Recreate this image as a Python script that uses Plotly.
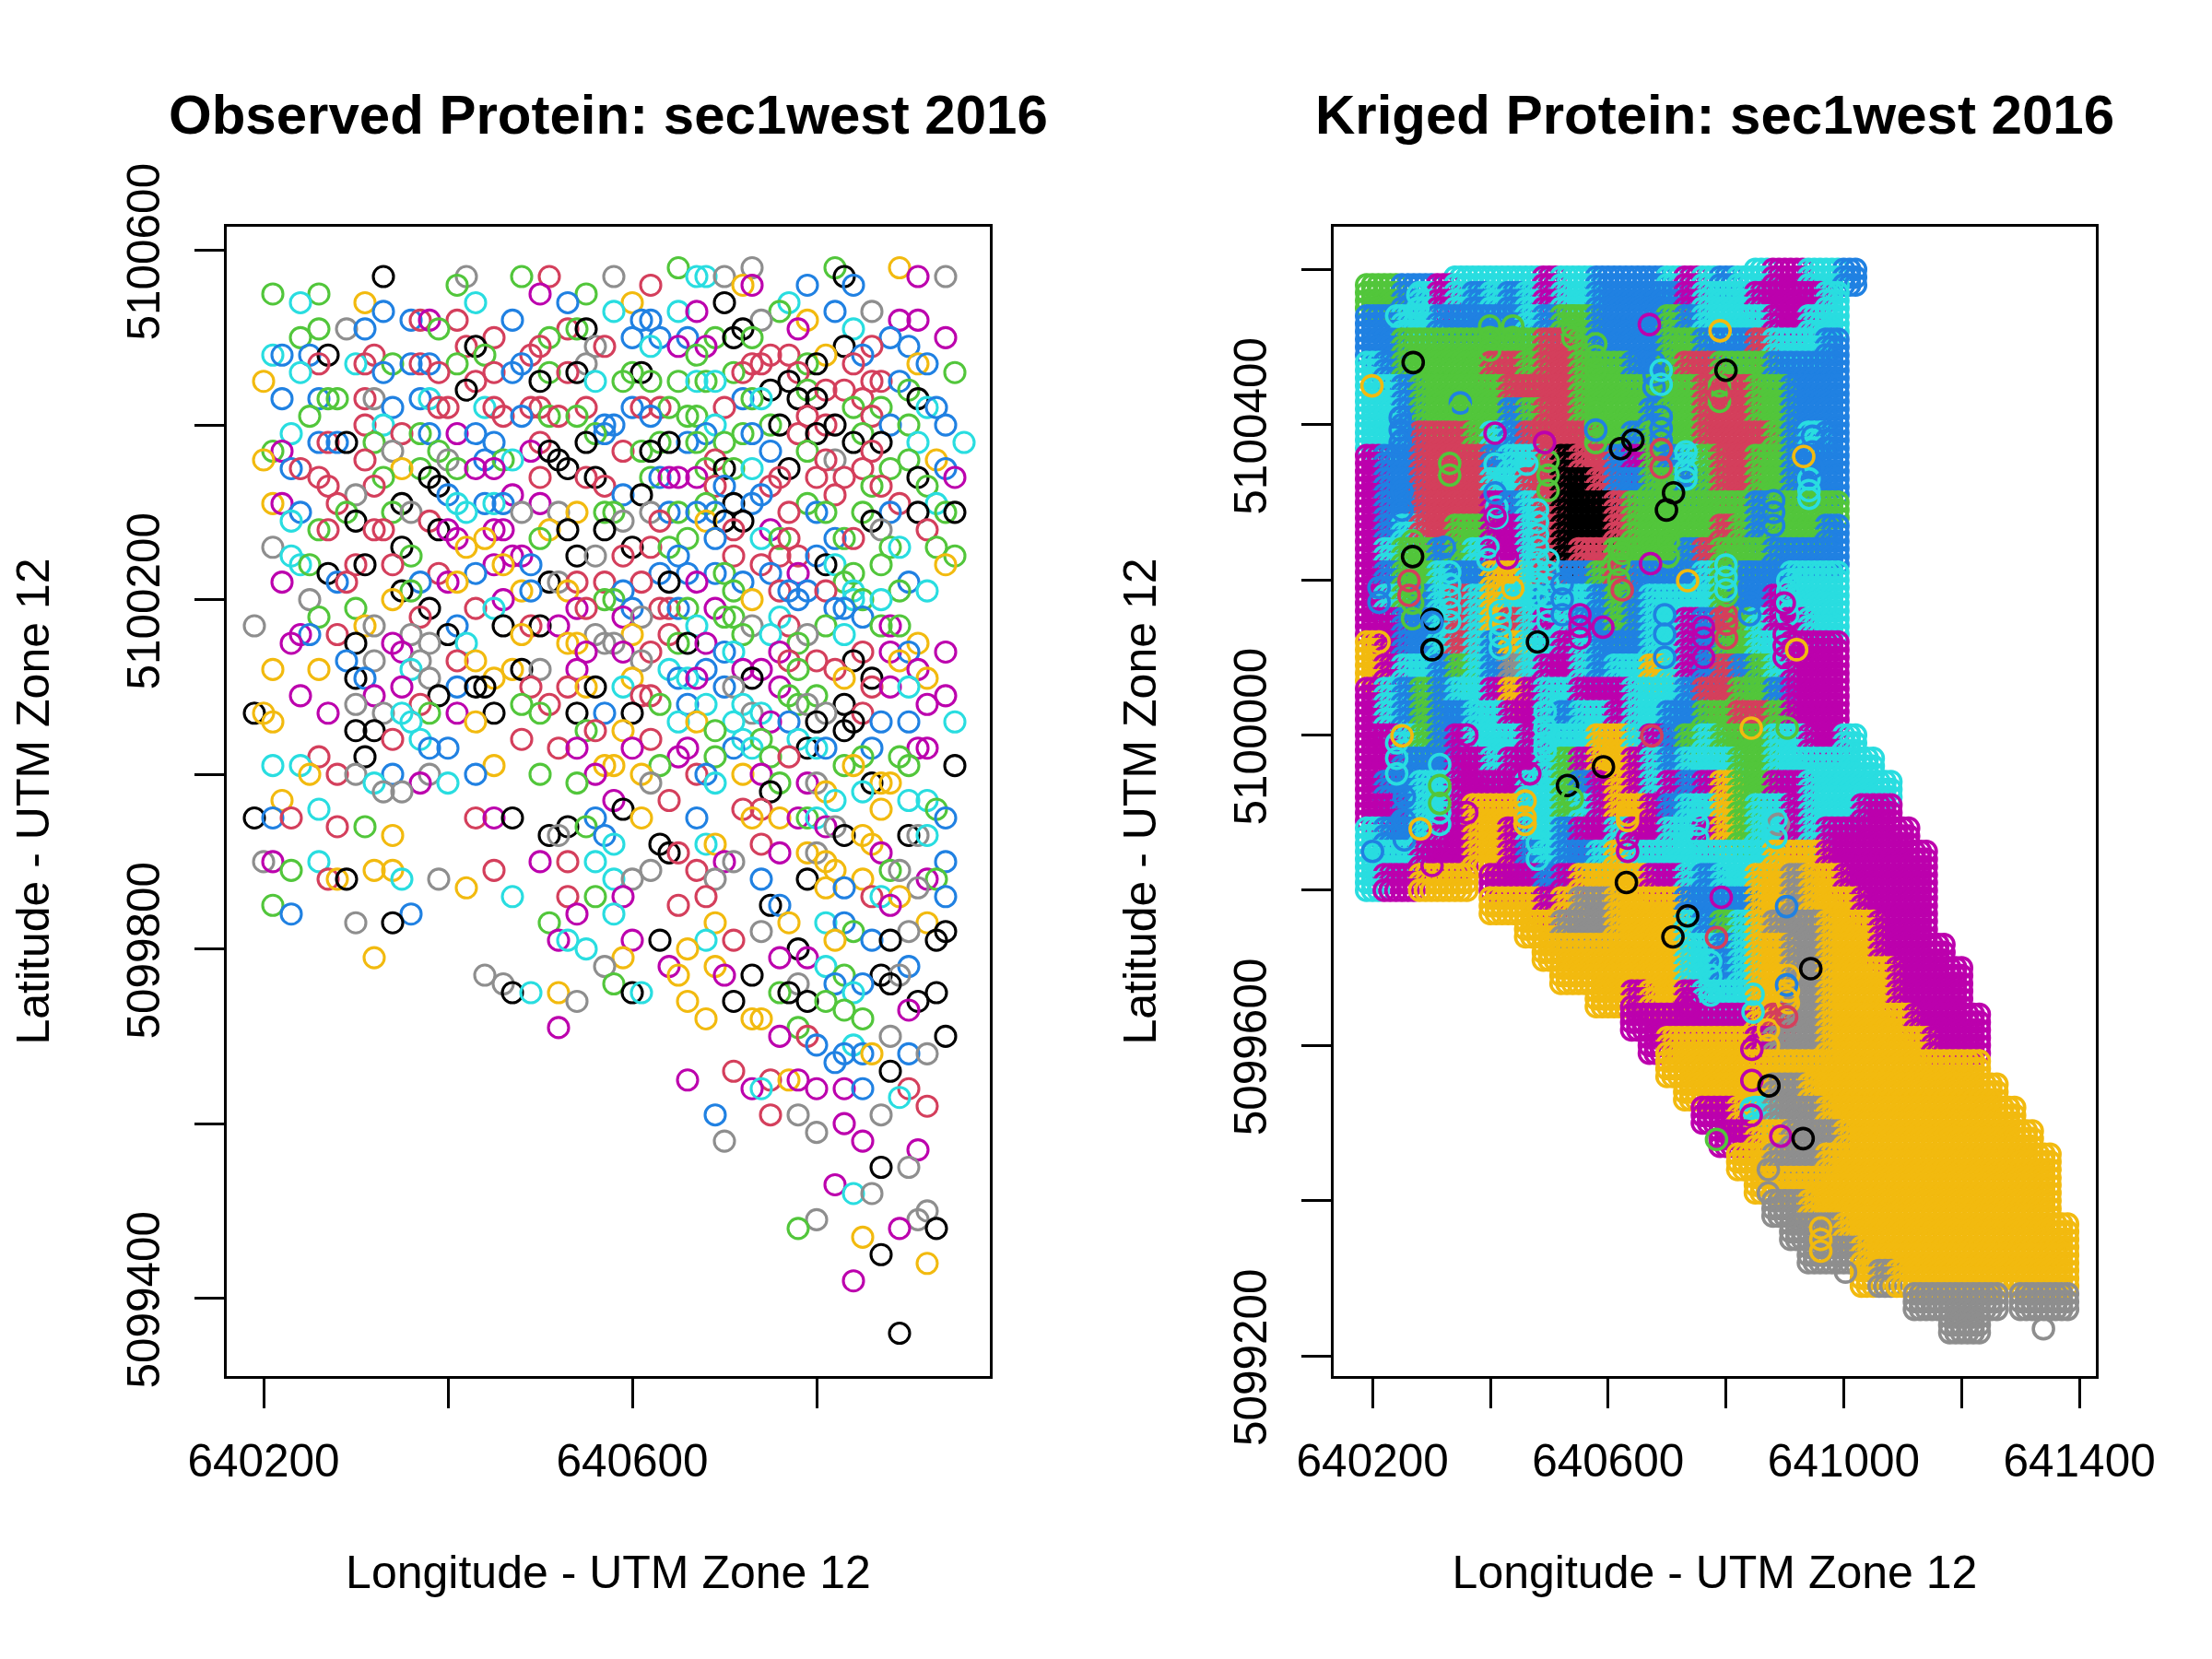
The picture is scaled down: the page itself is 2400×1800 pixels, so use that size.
import plotly.graph_objects as go

# Class colours
palette = {"K": "#000000", "R": "#D43F5C", "G": "#52C63B", "B": "#2081E2",
           "C": "#29DDE0", "M": "#BC00AD", "Y": "#F2BA0F", "A": "#8E8E8E"}

TITLE_LEFT = "Observed Protein: sec1west 2016"
TITLE_RIGHT = "Kriged Protein: sec1west 2016"
XLABEL = "Longitude - UTM Zone 12"
YLABEL = "Latitude - UTM Zone 12"

left_x_ticks = [640200, 640400, 640600, 640800]
left_x_text = ["640200", "", "640600", ""]
left_y_ticks = [5099400, 5099600, 5099800, 5100000, 5100200, 5100400, 5100600]
left_y_text = ["5099400", "", "5099800", "", "5100200", "", "5100600"]
right_x_ticks = [640200, 640400, 640600, 640800, 641000, 641200, 641400]
right_x_text = ["640200", "", "640600", "", "641000", "", "641400"]
right_y_ticks = [5099200, 5099400, 5099600, 5099800, 5100000, 5100200, 5100400, 5100600]
right_y_text = ["5099200", "", "5099600", "", "5100000", "", "5100400", ""]

# Observed samples: (northing - 5099000, "class + easting - 640000 ...")
obs_rows = [
 (1580,"G650 A730 G820 Y890"),
 (1570,"K330 A420 G480 R510 A580 C670 C680 A700 K830 M910 A940"),
 (1560,"G410 R620 Y720 M730 B790 B840"),
 (1550,"G210 G260 M500 G550"),
 (1540,"C240 Y310 C430 B530 Y600 K700 C770"),
 (1530,"B330 C580 C650 M670 G760 B820 A860"),
 (1520,"B360 R370 M380 R410 B470 B610 B620 A740 Y790 M890 M910"),
 (1510,"A290 B310 G260 G390 R530 G540 K550 K720 M780 C840"),
 (1500,"G240 R450 G510 B600 B630 B660 G690 K710 G730 B880 M940"),
 (1490,"R420 K430 R500 A560 R570 C620 M650 M680 K830 R860 B900"),
 (1480,"C210 B220 B250 K270 R320 G440 R490 G670 R750 R770 Y810 B850"),
 (1470,"R260 C300 R310 G340 B360 R370 B380 G410 B480 A550 R730 R740 G790 K800 R840 Y910 B920"),
 (1460,"C240 B330 R390 R450 B470 G510 R530 K540 G600 K610 G710 R720 R780 G950"),
 (1450,"Y200 R430 K500 C560 G590 G620 G650 C670 G680 C690 K770 R860 R870 B890"),
 (1440,"K420 K750 G790 R810 R830 G900"),
 (1430,"B220 B260 G270 G280 R310 A320 B370 C380 B720 G730 C740 K780 K800 R850 K910"),
 (1420,"B340 R390 R400 C440 R450 R490 R500 R550 B600 R610 R630 G640 R700 G840 G870 C920 B930"),
 (1410,"G250 R460 B480 G510 R520 G540 B620 G660 G670 R790 R860"),
 (1400,"R310 C330 B570 B580 C690 G750 K760 R810 K820 B880 G900 B940"),
 (1390,"C230 R350 G370 B380 M410 B430 G560 B570 B680 G720 B730 R780 K800 G850"),
 (1380,"B260 R270 B280 K290 G320 B450 R500 K550 B660 G670 G630 K640 G700 K840 K870 C910 C960"),
 (1370,"G210 M220 A340 G390 M490 K510 R590 G610 K620 B750 G790 R860"),
 (1360,"Y200 R310 A400 B440 G460 C470 K520 R690 A820 R810 G900 Y930"),
 (1350,"B230 R240 G370 Y350 G410 M430 M450 K530 G680 K700 G710 C730 K770 R850 G880 B940"),
 (1340,"R260 G330 K380 R500 R550 K560 G620 B630 M640 M650 M670 R760 R800 R830 K910 M950"),
 (1330,"R270 R320 K390 R570 R690 B700 R750 G860 R870 G920"),
 (1320,"A300 B400 M470 B590 K610 B740 R820"),
 (1310,"Y210 M220 R280 K350 C410 B440 C450 B460 M500 G680 K710 B730 G790 R890 C930"),
 (1300,"B240 G290 G340 A360 C420 A480 A520 Y540 G570 G580 A620 B640 G650 B670 B690 R770 B800 G810 G850 B880 K910 G940 K950"),
 (1290,"C230 K300 R380 A590 R630 Y680 K700 K720 K860"),
 (1280,"G260 R270 R320 R330 K390 M400 M450 M460 Y510 K530 K570 R710 M750 A870 R920"),
 (1270,"M410 Y440 G500 G660 B690 C740 G760 R770 B820 G830 R840"),
 (1260,"A210 K350 Y420 K600 R620 G640 G880 C890 G930"),
 (1250,"C230 G360 M470 M480 K540 A560 R590 B650 R710 R760 R780 B800 G950"),
 (1240,"C240 G250 R300 K310 R340 M450 Y460 B490 R740 K810 C820 G870 Y940"),
 (1230,"K270 R390 B430 B630 B660 B690 G700 B750 M780 G840"),
 (1220,"M220 B280 R290 B370 M400 Y410 K510 A520 R540 R570 R610 K640 M670 B720 G830 B900"),
 (1210,"K350 G360 Y480 B490 Y530 B590 G710 R760 B770 B790 R810 C840 G890 C920"),
 (1200,"A250 Y340 M460 G570 G580 Y730 B780 C840 G850 C870"),
 (1190,"G300 K380 R430 C450 M540 R550 B600 R630 R640 B650 G660 M690 B820 B830"),
 (1180,"G260 R370 M590 A610 G700 G710 C760 B850"),
 (1170,"A190 Y310 A320 B410 K460 R490 K500 M520 C670 A730 R770 G810 G870 M880 G890"),
 (1160,"M240 B250 R280 A360 K400 Y480 A560 Y600 R640 G720 C750 A790 C830"),
 (1150,"M230 K300 M340 A380 C420 Y530 Y540 A570 A580 G650 K660 M680 G780 Y910"),
 (1140,"M350 M550 M590 R620 B700 C710 M760 R850 M880 B900 M940"),
 (1130,"B290 A320 A370 R410 Y430 A610 R770 R800 K840 Y890"),
 (1120,"Y210 Y260 C360 Y470 K480 A500 M540 C640 B680 M720 M740 G780 R820 M910"),
 (1110,"K300 B310 A380 Y450 Y600 B650 C660 M670 K730 Y830 K860 Y920"),
 (1100,"M350 B410 K430 K440 R490 R530 Y550 K560 C590 B700 A710 M760 R860 M880 C900"),
 (1090,"M240 M320 K390 R610 R620 G770 G800 M940"),
 (1080,"A300 R370 G480 R510 G630 B660 C680 C720 G780 A790 K830 M920"),
 (1070,"K190 Y200 M270 A330 C350 G380 M410 K450 G500 K540 B570 K600 A730 C740 A810 R850"),
 (1060,"Y210 C360 Y430 C650 Y670 C710 M750 B770 K800 K840 B870 B900 C950"),
 (1050,"K300 K320 G550 R560 Y590 G690 K830"),
 (1040,"R340 C370 R480 R620 C720 G740 C780"),
 (1030,"B380 B400 R520 M540 M600 M660 B710 C730 K790 C800 B810 B860 M910 M920"),
 (1020,"R260 K310 M650 G690 G750 R770 G850 G890"),
 (1010,"C210 C240 Y450 Y570 Y580 G630 G830 Y840 G900 K950"),
 (1000,"Y250 R280 A300 B340 A380 B430 G500 M560 Y610 R670 B680 Y720 M740"),
 (990,"C320 M370 C400 G540 A620 C690 G760 M790 A800 K860 Y870 Y880"),
 (980,"A330 A350 K750 Y810 C850"),
 (970,"Y220 M580 R640 C820 C900 C920"),
 (960,"C260 K590 R720 R740 Y870 G930"),
 (950,"K190 B210 R230 R430 M450 K470 B560 Y610 B670 Y730 Y760 M780 G790 C800 B940"),
 (940,"R280 G310 K530 G550 M810 A820"),
 (930,"Y340 K510 A520 B570 K830 Y850 K900 A910 C920"),
 (920,"C580 K630 C680 Y690 R740 Y860"),
 (910,"K640 R650 M760 Y790 A800 M870"),
 (900,"A200 M210 C260 M500 R530 C560 M700 A710 B940 Y810"),
 (890,"G230 Y320 Y340 R450 A620 R670 Y820 G880 A890"),
 (880,"R270 Y280 K290 C350 A390 C580 A600 A690 B740 K790 Y850 M920 G930"),
 (870,"Y420 Y810 B830 A910"),
 (860,"C470 R530 G560 M590 R680 R860 C870 Y890 B940"),
 (850,"G210 R650 K750 B760 M880"),
 (840,"B230 B360 M540 C580"),
 (830,"A300 K340 G510 Y690 Y770 C810 B830 Y920"),
 (820,"A740 G840 A900 K940"),
 (810,"M520 C530 M600 K630 C680 R710 Y820 B860 K880 K930"),
 (800,"C550 Y660 K780"),
 (790,"Y320 Y590 M760 M790"),
 (780,"A570 M640 Y690 C810 B900"),
 (770,"A440 Y650 M700 K730 G830 K870 A890"),
 (760,"A460 G580 A780 B820 B850 K880"),
 (750,"K470 C490 Y520 K600 C610 G760 K770 C840 K930"),
 (740,"A540 Y660 K710 K790 G810 K910"),
 (730,"G830 M900"),
 (720,"Y680 Y730 Y740 G850"),
 (710,"M520 G780"),
 (700,"M760 R790 A880 K940"),
 (690,"B800 C840"),
 (680,"B830 B850 Y860 B900 A920"),
 (670,"B820"),
 (660,"R710 K880"),
 (650,"M660 R750 Y770 M780"),
 (640,"M730 C740 M800 M830 B850 R900"),
 (630,"C890"),
 (620,"R920"),
 (610,"B690 R750 A780 A870"),
 (600,"M830"),
 (590,"A800"),
 (580,"A700 M850"),
 (570,"M910"),
 (550,"K870 A900"),
 (530,"M820"),
 (520,"C840 A860"),
 (500,"A920"),
 (490,"A800 A910"),
 (480,"G780 M890 K930"),
 (470,"Y850"),
 (450,"K870"),
 (440,"Y920"),
 (420,"M840"),
 (360,"K890"),
]

# Kriged class per 30 m block; first column at easting 640200, first row at
# northing 5100590, 30 m apart. "." means outside the field.
krig_blocks = [
 "GGBBMCCCCCMCCBBBBCMCBCCMMCCB",
 "GGBCMCBCBCMCCBBBBBMCCCMMMMC",
 "BBCCBBBBBCBGGBBBBGBCCCCMMCC",
 "BBGGGGGGGGRRGBBBBGGBBBRCCCB",
 "CBGGGGGRRGRRGGGBBGRRGGGBBBB",
 "CCBGGGGGRRRRGGGGGGGRRRGGBBB",
 "CCBGGGGGBGRRGGGGBGGRRRGGBBB",
 "CCBRRRGCBRRRRGGBGGGRRRRGBCB",
 "MBBRRRRBCCRKRRBMGBCGRRGGBBB",
 "MBBRRRRCCRRKKRBBGGBGRRGGBBB",
 "MBBRRRRMBCRKKKRGGGGGGGBGGGG",
 "MBCRRGGMMCRKKKRGGGGGRGBGGGB",
 "MCGGBGCMMCRKRRGGGGBRGGGBBBB",
 "MBGGCBBYYCRBBGRBBBBCGBBBCCC",
 "MCGBCRCYCCBCCBGBCCCCGBBMCCC",
 "MMBBCRCYRCMCBBGBCCMBRGCMMCC",
 "YMBBCRCBYCCMCBBBCCMBGGCCMMM",
 "YMCCBGCBACMMCBCCYCMBRBGCMMM",
 "MCBGBCCMYMCCMMMCCCBRRGGBMMM",
 "MCBGBBCCMMCBCCMCCBBGGRRGMMM",
 "MMCGBMCCCMCCCYYCMBGCGGGCCMMC",
 "MMBBBMMCMMCGMYYMCBCCCGGCCCCCC",
 "MBBCCMMMMCCGBMYMCMBMYGGMMCCCCC",
 "MMBCCMYYYCCGCMYYMBCCYGCCMCCCMM",
 "CBBCMMYYMCCBMMCMMCCMYGCCMCMMMMM",
 "CCCMMMYYMBCBBCYCCCCCCCCYYYMMMMMM",
 "CMMYYY.MMMBMYYYYMMCBCCYYAYYMMMMM",
 ".......YYYMYAAYYYYBBBBYYAYYYMMMM",
 ".........YYAAAYYYYCBGCYAAAYYYMMM",
 "..........YYYYYYYYCCBCYYAAYYYMMMM",
 "...........YYYYYYYCCBCYYAAYYYYMMMM",
 ".............YYMYYMCCCYYAAYYYYMMMM",
 "...............MMMMMMMYRAAYYYYYMMMM",
 "................MYYYYYMAAAYYYYYYMMM",
 ".................YYYYYYYYYYYYYYYYYY",
 "..................YYYYYAAYYYYYYYYYYY",
 "...................MMYCAAAYYYYYYYYYYY",
 "....................MMYYAAAYYYYYYYYYYY",
 ".....................YYAAAYYYYYYYYYYYYY",
 "......................YYYYYYYYYYYYYYYYY",
 ".......................AAYYYYYYYYYYYYYY",
 "........................AAAYYYYYYYYYYYYY",
 ".........................AAAYYYYYYYYYYYY",
 "............................YAYYYYYYYYYY",
 "...............................AAAAA.AAA",
 ".................................AA",
]
krig_east0, krig_north0, krig_block = 640200, 5100590, 30
krig_sub = [-10, 0, 10]
# 10 m levels missing at the top of the first block row, by column
krig_top_trim = "2222211111111111111111000000"

# Individually visible kriged samples: (class, easting-640000, northing-5100000)
krig_rings = [
 ("C",241,540),("K",269,480),("M",670,529),("Y",790,521),("K",800,470),("Y",199,450),
 ("M",408,389),("C",408,349),("B",408,312),("K",642,380),("K",621,369),("Y",932,359),
 ("K",699,290),("K",711,312),("M",672,221),("Y",735,199),("M",429,228),("Y",438,189),
 ("K",268,230),("K",301,149),("B",301,145),("K",301,110),("Y",211,120),("M",762,139),
 ("R",801,143),("M",591,139),("K",480,120),("Y",920,110),
 ("C",480,290),("C",480,274),("C",480,258),("C",480,242),("C",480,226),("C",480,211),
 ("C",480,195),("C",480,179),("C",417,159),("C",417,143),("C",417,127),("C",417,112),
 ("C",800,219),("C",800,203),("C",800,187),("B",349,428),("G",349,420),("B",579,393),
 ("C",462,349),("G",624,234),("R",624,187),("B",250,314),("B",250,290),
 ("Y",250,-1),("Y",281,-121),("B",200,-150),("K",631,-190),("C",493,9),("C",493,-10),
 ("Y",843,9),("G",904,9),("R",674,-1),("K",592,-41),("K",531,-65),("G",539,-82),
 ("M",467,-50),("Y",459,-106),("G",314,-88),("G",314,-65),("K",735,-233),("K",710,-260),
 ("R",784,-261),("M",792,-209),("C",774,-310),("B",903,-221),("B",903,-322),("Y",903,-339),
 ("R",903,-363),("K",873,-452),("C",843,-481),("M",843,-490),("G",784,-521),("M",893,-517),
 ("K",931,-520),("K",944,-301),("A",889,-115),("C",885,-109),("C",885,-132),
 ("A",1003,-692),("A",1339,-765),
]

# Stacks of kriged samples showing above the blocks:
# (class, easting-640000, [northing-5100000, ...])
krig_stacks = [
 ("C",277,[567,550]),("G",399,[527,512,496]),("G",438,[527,512]),("G",540,[540,525,512]),
 ("G",579,[504,488,472]),("B",678,[480,464,448]),("C",690,[470,452]),("B",247,[409,393,377]),
 ("B",211,[190,171]),("G",268,[250,230,210,190,170,150]),("R",262,[199,180]),
 ("C",331,[210,194,178,162,146]),("B",322,[242]),("C",396,[242,226]),("C",411,[294,280]),
 ("M",408,[282]),("C",498,[226,210,194,178,162,146]),("B",522,[195,175,155]),
 ("M",552,[155,140,125]),("B",696,[155,130,100]),("M",762,[125,100]),("R",801,[155,125]),
 ("G",801,[226,210,195,180]),("B",840,[210,190,170,155]),("B",881,[302,287,270]),
 ("C",905,[199,185,170,155]),("M",899,[170,130,115,100]),("C",941,[330,315,305]),
 ("B",947,[385,365,345]),("G",702,[270,250,230]),("B",690,[410,395,380]),("R",690,[368,345]),
 ("C",732,[365,340,330]),("G",789,[450,430]),("R",789,[440]),("G",331,[350,335]),
 ("G",498,[353,335,315]),("M",492,[377]),("G",579,[416,400,377]),("G",618,[240,220,200,187]),
 ("C",493,[30,10,-20]),("C",314,[-38,-70,-100,-115]),("C",241,[-10,-30,-50]),
 ("B",254,[-80,-110,-135]),("C",752,[-97,-115,-133]),("M",360,[0,-30,-60,-100]),
 ("M",301,[-150,-168]),("C",480,[-139,-160]),("M",633,[-133,-150]),("Y",459,[-85,-115]),
 ("Y",633,[-103,-110]),("Y",599,[-10,-32]),("C",774,[-292,-335]),("C",846,[-334,-357]),
 ("Y",906,[-310,-330,-345]),("Y",872,[-380,-400]),("M",844,[-405,-445]),("A",872,[-560,-590]),
 ("Y",961,[-635,-650,-665]),("M",735,[-345,-355]),
]

# Observed points
obs_x, obs_y, obs_c = [], [], []
for north, cells in obs_rows:
    for cell in cells.split():
        obs_x.append(640000 + int(cell[1:]))
        obs_y.append(5099000 + north)
        obs_c.append(palette[cell[0]])

# Kriged points
krig_x, krig_y, krig_c = [], [], []
for j, row in enumerate(krig_blocks):
    for level, dy in enumerate(reversed(krig_sub)):
        for i, cls in enumerate(row):
            if cls == ".":
                continue
            if j == 0 and level < int(krig_top_trim[i]):
                continue
            for dx in krig_sub:
                krig_x.append(krig_east0 + krig_block * i + dx)
                krig_y.append(krig_north0 - krig_block * j + dy)
                krig_c.append(palette[cls])
for cls, e, norths in krig_stacks:
    for n in norths:
        krig_x.append(640000 + e)
        krig_y.append(5100000 + n)
        krig_c.append(palette[cls])
for cls, e, n in krig_rings:
    krig_x.append(640000 + e)
    krig_y.append(5100000 + n)
    krig_c.append(palette[cls])

FONT = "Liberation Sans"
W, H = 2400, 1800

fig = go.Figure()
fig.add_trace(go.Scatter(x=obs_x, y=obs_y, mode="markers", xaxis="x", yaxis="y",
                         marker=dict(color=obs_c, symbol="circle-open", size=22, line=dict(width=3.1)),
                         showlegend=False))
fig.add_trace(go.Scatter(x=krig_x, y=krig_y, mode="markers", xaxis="x2", yaxis="y2",
                         marker=dict(color=krig_c, symbol="circle-open", size=22, line=dict(width=3.6)),
                         showlegend=False))

def xaxis(dom, rng, vals, text):
    return dict(domain=[dom[0]/W, dom[1]/W], range=rng, tickmode="array", tickvals=vals, ticktext=text,
                ticks="outside", ticklen=32, tickwidth=2.5, tickcolor="black", showgrid=False, zeroline=False,
                showline=True, linecolor="black", linewidth=2.5, mirror=True, automargin=False,
                tickfont=dict(family=FONT, size=49.5, color="black"), ticklabelstandoff=15, tickangle=0,
                title=dict(text=XLABEL, font=dict(family=FONT, size=50, color="black"), standoff=77))

def yaxis(rng, vals, text):
    return dict(domain=[1-1493/H, 1-246/H], range=rng, tickmode="array", tickvals=vals, ticktext=text,
                ticks="outside", ticklen=32, tickwidth=2.5, tickcolor="black", showgrid=False, zeroline=False,
                showline=True, linecolor="black", linewidth=2.5, mirror=True, automargin=False,
                tickfont=dict(family=FONT, size=49.5, color="black"), ticklabelstandoff=18, tickangle=-90,
                ticklabelshift=9,
                title=dict(text=YLABEL, font=dict(family=FONT, size=50, color="black"), standoff=59))

fig.update_layout(
    width=W, height=H, margin=dict(l=0, r=0, t=0, b=0), autosize=False,
    paper_bgcolor="white", plot_bgcolor="white", showlegend=False,
    xaxis=xaxis((246, 1074), [640160, 640988], left_x_ticks, left_x_text),
    yaxis=yaxis([5099311, 5100627], left_y_ticks, left_y_text),
    xaxis2=dict(xaxis((1447, 2274), [640134, 641428], right_x_ticks, right_x_text), anchor="y2"),
    yaxis2=dict(yaxis([5099174, 5100655], right_y_ticks, right_y_text), anchor="x2"),
    annotations=[
        dict(text=TITLE_LEFT, x=660/W, y=1-124/H, xref="paper", yref="paper", showarrow=False,
             xanchor="center", yanchor="middle",
             font=dict(family=FONT, size=60, color="black", weight="bold")),
        dict(text=TITLE_RIGHT, x=1860/W, y=1-124/H, xref="paper", yref="paper", showarrow=False,
             xanchor="center", yanchor="middle",
             font=dict(family=FONT, size=60, color="black", weight="bold")),
    ],
)
fig.write_html("out.html", config={"displayModeBar": False},
               post_script="document.body.style.margin='0';")
